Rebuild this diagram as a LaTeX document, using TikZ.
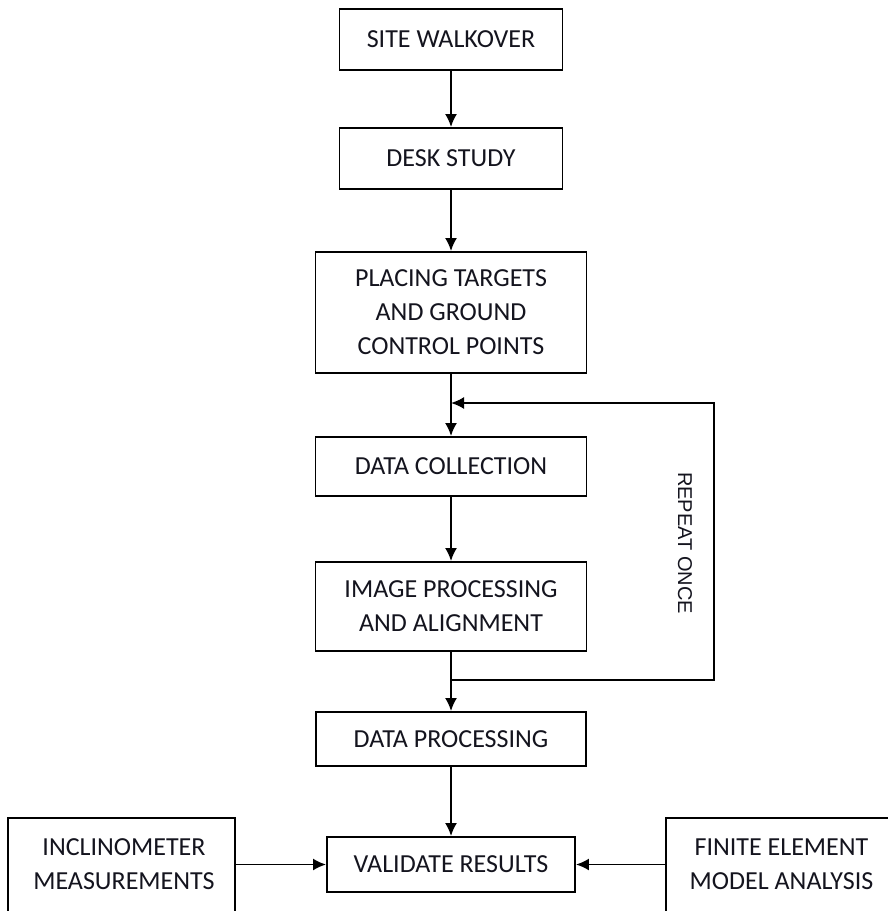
\documentclass[tikz,border=0pt]{standalone}
\usepackage{fontspec}
\setmainfont{Carlito}
\newfontfamily\arialfont{Liberation Sans}
\usetikzlibrary{arrows.meta}
\definecolor{txtcol}{RGB}{20,20,30}
\tikzset{
  box/.style={draw=black, line width=1.9pt, rectangle, inner sep=0pt, text=txtcol,
    align=center, font=\fontsize{26}{34}\selectfont},
  lbl/.style={inner sep=0pt, text=txtcol, align=center, font=\fontsize{26}{34}\selectfont},
  arr/.style={line width=1.9pt, -{Latex[length=13pt,width=12pt]}}
}
\begin{document}
\begin{tikzpicture}[x=1pt,y=-1pt]
\useasboundingbox (0,0) rectangle (888,911);
\clip (0,0) rectangle (888,911);
\fill[white] (0,0) rectangle (888,911);
\node[box, minimum width=223pt, minimum height=61pt] (walk) at (451,39.5) {SITE WALKOVER};
\node[box, minimum width=223pt, minimum height=61pt] (desk) at (451,158.5) {DESK STUDY};
\node[box, minimum width=271pt, minimum height=121pt] (place) at (451,312.5) {PLACING TARGETS\\AND GROUND\\CONTROL POINTS};
\node[box, minimum width=271pt, minimum height=59pt] (coll) at (451,466.5) {DATA COLLECTION};
\node[box, minimum width=271pt, minimum height=89pt] (img) at (451,606.5) {IMAGE PROCESSING\\AND ALIGNMENT};
\node[box, minimum width=270pt, minimum height=54pt] (proc) at (451,739) {DATA PROCESSING};
\node[box, minimum width=248pt, minimum height=55pt] (valid) at (451,864.5) {VALIDATE RESULTS};
\node[box, minimum width=227pt, minimum height=102pt] (incl) at (121.5,869) {};
\node[lbl] (incltxt) at (124,864.5) {INCLINOMETER\\MEASUREMENTS};
\node[box, minimum width=234pt, minimum height=102pt] (fin) at (783,869) {};
\node[lbl] (fintxt) at (781.5,864.5) {FINITE ELEMENT\\MODEL ANALYSIS};
\node[inner sep=0pt, rotate=-90, text=txtcol, font=\arialfont\fontsize{20}{24}\selectfont] (rep) at (685,543) {REPEAT ONCE};
\coordinate (j1) at (451,403);
\coordinate (j2) at (451,680);
\coordinate (rt) at (714,403);
\coordinate (rb) at (714,680);
\draw[arr] (walk.south) -- (desk.north);
\draw[arr] (desk.south) -- (place.north);
\draw[arr] (place.south) -- (coll.north);
\draw[arr] (coll.south) -- (img.north);
\draw[arr] (img.south) -- (proc.north);
\draw[arr] (proc.south) -- (valid.north);
\draw[arr] (j2) -- (rb) -- (rt) -- (j1);
\draw[arr] (incl.east |- valid.west) -- (valid.west);
\draw[arr] (fin.west |- valid.east) -- (valid.east);
\end{tikzpicture}
\end{document}
